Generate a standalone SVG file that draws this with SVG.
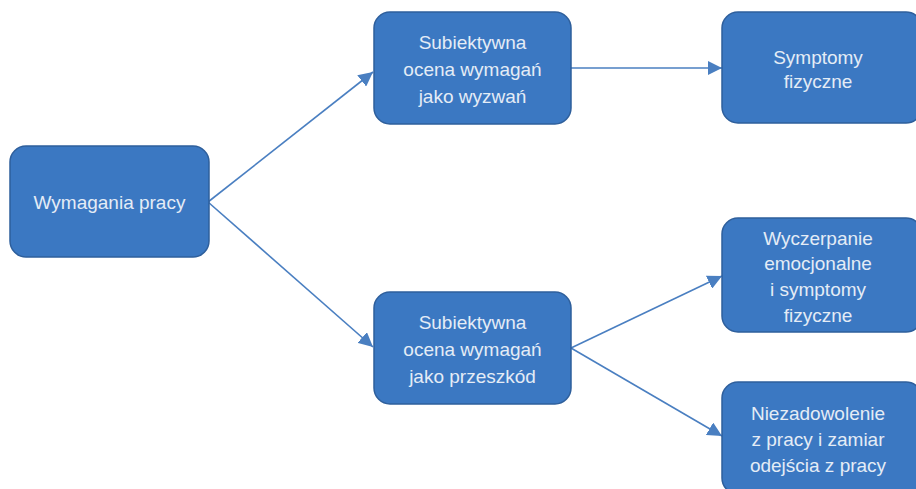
<svg xmlns="http://www.w3.org/2000/svg" width="916" height="489" viewBox="0 0 916 489">
<defs>
<style>
.box{fill:#3b78c2;stroke:#2e5f9c;stroke-width:1.5}
.t{font-family:"Liberation Sans",Arial,sans-serif;font-size:19px;fill:#e4ecf6;text-anchor:middle}
.c{stroke:#4a7fc1;stroke-width:1.6;fill:none;marker-end:url(#ah)}
</style>
<marker id="ah" viewBox="0 0 10 10" refX="10" refY="5" markerWidth="9" markerHeight="9" orient="auto">
<path d="M0,0 L10,5 L0,10 z" fill="#4a7fc1"/>
</marker>
</defs>
<rect width="916" height="489" fill="#ffffff"/>
<g id="connectors">
<line class="c" x1="208" y1="202" x2="373" y2="72"/>
<line class="c" x1="208" y1="202" x2="373" y2="347"/>
<line class="c" x1="571" y1="68" x2="722" y2="68"/>
<line class="c" x1="571" y1="348" x2="722" y2="276"/>
<line class="c" x1="571" y1="348" x2="722" y2="436"/>
</g>
<g id="n1">
<rect class="box" x="10" y="146" width="199" height="111" rx="16"/>
<text class="t" x="109.5" y="209">Wymagania pracy</text>
</g>
<g id="n2">
<rect class="box" x="374" y="12" width="197" height="112" rx="16"/>
<text class="t" x="472.5" y="49">Subiektywna</text>
<text class="t" x="472.5" y="76">ocena wymagań</text>
<text class="t" x="472.5" y="103">jako wyzwań</text>
</g>
<g id="n3">
<rect class="box" x="722" y="12" width="200" height="111" rx="16"/>
<text class="t" x="818" y="64">Symptomy</text>
<text class="t" x="818" y="88">fizyczne</text>
</g>
<g id="n4">
<rect class="box" x="722" y="218" width="200" height="114" rx="16"/>
<text class="t" x="818" y="245">Wyczerpanie</text>
<text class="t" x="818" y="270">emocjonalne</text>
<text class="t" x="818" y="296">i symptomy</text>
<text class="t" x="818" y="322">fizyczne</text>
</g>
<g id="n5">
<rect class="box" x="722" y="382" width="200" height="112" rx="16"/>
<text class="t" x="818" y="420">Niezadowolenie</text>
<text class="t" x="818" y="446">z pracy i zamiar</text>
<text class="t" x="818" y="472">odejścia z pracy</text>
</g>
<g id="n6">
<rect class="box" x="374" y="292" width="197" height="112" rx="16"/>
<text class="t" x="472.5" y="329">Subiektywna</text>
<text class="t" x="472.5" y="356">ocena wymagań</text>
<text class="t" x="472.5" y="383">jako przeszkód</text>
</g>
</svg>
